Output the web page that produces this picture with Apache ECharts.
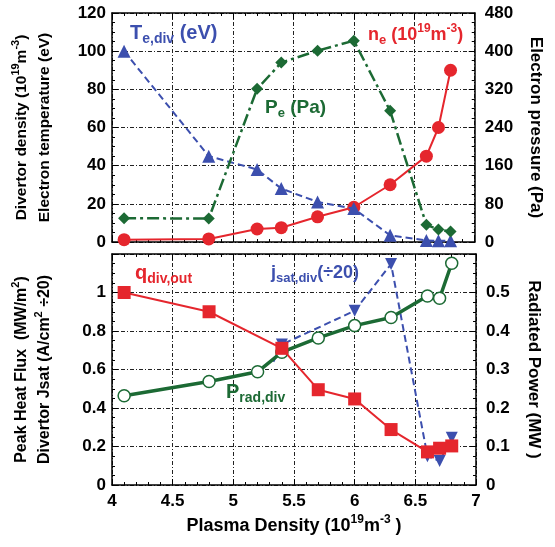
<!DOCTYPE html>
<html>
<head>
<meta charset="utf-8">
<script src="https://cdn.jsdelivr.net/npm/echarts@6/dist/echarts.min.js"></script>
<style>html,body{margin:0;padding:0;background:#fff;}#c{width:555px;height:547px;}</style>
</head>
<body>
<div id="c"></div>
<script>
// ---- data ----
const xVals   = [4.1, 4.8, 5.2, 5.4, 5.7, 6.0, 6.3, 6.6, 6.7, 6.8];
const neDiv   = [1.2, 1.6, 6.8, 7.5, 13.2, 18.2, 30, 45, 60, 90];          // 10^19 m^-3
const teDiv   = [100, 45, 38, 28, 21, 17.5, 3.5, 0.8, 0.6, 0.6];          // eV
const pePa    = [50, 49, 321, 376, 401, 422, 275, 36, 26, 22];            // Pa
const qX      = [4.1, 4.8, 5.4, 5.7, 6.0, 6.3, 6.6, 6.7, 6.8];
const qDiv    = [1.0, 0.90, 0.71, 0.495, 0.447, 0.288, 0.172, 0.191, 0.203]; // MW/m2
const pradX   = [4.1, 4.8, 5.2, 5.4, 5.7, 6.0, 6.3, 6.6, 6.7, 6.8];
const pradMW  = [0.232, 0.269, 0.294, 0.345, 0.382, 0.414, 0.435, 0.491, 0.485, 0.576];
const jsatX   = [5.33, 5.4, 6.0, 6.3, 6.6, 6.7, 6.8];
const jsatV   = [0.64, 0.73, 0.905, 1.148, 0.15, 0.125, 0.245];
const xTicks  = [4, 4.5, 5, 5.5, 6, 6.5, 7];

const RED = '#e5262d', BLUE = '#3c4fae', GREEN = '#1c6a34';
const FONT = "'Liberation Sans',Arial,sans-serif";
const zip = (a, b) => a.map((v, i) => [v, b[i]]);

const grid = { color: '#222', width: 1, type: [4, 2, 1, 2] };
const axLine = { onZero: false, lineStyle: { color: '#000', width: 1.5 } };
const tick = { inside: true, length: 6, lineStyle: { color: '#000', width: 1 } };
const minor = (n) => ({ show: true, splitNumber: n, length: 3, lineStyle: { color: '#000', width: 1 } });
const lab = { color: '#000', fontFamily: FONT, fontWeight: 'bold', fontSize: 17 };
function nStyle(fs, lh) {
  return {
    color: '#000', fontFamily: FONT, fontWeight: 'bold', fontSize: fs, lineHeight: lh,
    rich: {
      t: { color: '#000', fontFamily: FONT, fontWeight: 'bold', fontSize: fs, lineHeight: lh },
      sup: { color: '#000', fontFamily: FONT, fontWeight: 'bold', fontSize: Math.round(fs * 0.68), lineHeight: lh, verticalAlign: 'top' }
    }
  };
}

function xAx(gi, pos, labels) {
  return {
    type: 'value', gridIndex: gi, position: pos, min: 4, max: 7, interval: 0.5,
    axisLine: axLine, axisTick: tick, minorTick: minor(5),
    splitLine: { show: pos === 'bottom', lineStyle: grid },
    axisLabel: labels ? Object.assign({ margin: 8, formatter: v => String(v) }, lab) : { show: false }
  };
}

const chart = echarts.init(document.getElementById('c'), null, { renderer: 'canvas' });

function legendText(x, y, color, parts, size) {
  const rich = {
    m: { fill: color, fontFamily: FONT, fontWeight: 'bold', fontSize: size, lineHeight: size + 6 },
    s: { fill: color, fontFamily: FONT, fontWeight: 'bold', fontSize: Math.round(size * 0.7), lineHeight: size + 6, verticalAlign: 'bottom' },
    u: { fill: color, fontFamily: FONT, fontWeight: 'bold', fontSize: Math.round(size * 0.68), lineHeight: size + 6, verticalAlign: 'top' }
  };
  return { type: 'text', left: x, top: y, z: 100, style: { text: parts, rich: rich, fill: color } };
}

const option = {
  animation: false,
  backgroundColor: '#fff',
  grid: [
    { left: 112, right: 79, top: 13, height: 229 },
    { left: 112, right: 79, top: 254, height: 231 }
  ],
  xAxis: [
    xAx(0, 'bottom', false),
    xAx(0, 'top', false),
    Object.assign(xAx(1, 'bottom', true), {
      name: '{t|Plasma Density (10}{sup|19}{t|m}{sup|-3}{t| )}', nameLocation: 'middle', nameGap: 29,
      nameTextStyle: nStyle(18, 24)
    }),
    xAx(1, 'top', false)
  ],
  yAxis: [
    {
      type: 'value', gridIndex: 0, position: 'left', min: 0, max: 120, interval: 20,
      axisLine: axLine, axisTick: tick, minorTick: minor(4),
      splitLine: { show: true, lineStyle: grid },
      axisLabel: Object.assign({ margin: 6 }, lab),
      name: '{t|Divertor density (10}{sup|19}{t|m}{sup|-3}{t|)}\n{t|Electron temperature (eV)}',
      nameLocation: 'middle', nameRotate: 90, nameGap: 56, nameTextStyle: nStyle(15.5, 23)
    },
    {
      type: 'value', gridIndex: 0, position: 'right', min: 0, max: 480, interval: 80,
      axisLine: axLine, axisTick: tick, minorTick: minor(4),
      splitLine: { show: false },
      axisLabel: Object.assign({ margin: 10 }, lab),
      name: 'Electron pressure (Pa)', nameLocation: 'middle', nameRotate: -90, nameGap: 46,
      nameTextStyle: nStyle(17, 23)
    },
    {
      type: 'value', gridIndex: 1, position: 'left', min: 0, max: 1.2, interval: 0.2,
      axisLine: axLine, axisTick: tick, minorTick: minor(4),
      splitLine: { show: true, lineStyle: grid },
      axisLabel: Object.assign({ margin: 6, formatter: v => (v > 1.1 ? '' : String(+v.toFixed(1))) }, lab),
      name: '{t|Peak Heat Flux  (MW/m}{sup|2}{t|)}\n{t|Divertor Jsat (A/cm}{sup|2}{t| ÷20)}',
      nameLocation: 'middle', nameRotate: 90, nameGap: 56, nameTextStyle: nStyle(16, 23)
    },
    {
      type: 'value', gridIndex: 1, position: 'right', min: 0, max: 0.6, interval: 0.1,
      axisLine: axLine, axisTick: tick, minorTick: minor(4),
      splitLine: { show: false },
      axisLabel: Object.assign({ margin: 10, formatter: v => (v > 0.55 ? '' : String(+v.toFixed(1))) }, lab),
      name: 'Radiated Power (MW )', nameLocation: 'middle', nameRotate: -90, nameGap: 46,
      nameTextStyle: nStyle(17, 23)
    }
  ],
  series: [
    {
      name: 'ne', type: 'line', xAxisIndex: 0, yAxisIndex: 0, data: zip(xVals, neDiv),
      symbol: 'circle', symbolSize: 13, z: 3,
      lineStyle: { color: RED, width: 2 }, itemStyle: { color: RED }
    },
    {
      name: 'Te', type: 'line', xAxisIndex: 0, yAxisIndex: 0, data: zip(xVals, teDiv),
      symbol: 'triangle', symbolSize: 13, z: 4,
      lineStyle: { color: BLUE, width: 2, type: [7, 4] }, itemStyle: { color: BLUE }
    },
    {
      name: 'Pe', type: 'line', xAxisIndex: 0, yAxisIndex: 1, data: zip(xVals, pePa),
      symbol: 'diamond', symbolSize: 12, z: 5,
      lineStyle: { color: GREEN, width: 2.5, type: [12, 4, 3, 4] }, itemStyle: { color: GREEN }
    },
    {
      name: 'jsat', type: 'line', xAxisIndex: 2, yAxisIndex: 2,
      data: zip(jsatX, jsatV).map((p, i) => i === 0 ? { value: p, symbol: 'none' } : p),
      symbol: 'triangle', symbolRotate: 180, symbolSize: 12, z: 3,
      lineStyle: { color: BLUE, width: 2, type: [7, 4] }, itemStyle: { color: BLUE }
    },
    {
      name: 'prad', type: 'line', xAxisIndex: 2, yAxisIndex: 3, data: zip(pradX, pradMW),
      symbol: 'circle', symbolSize: 12, z: 4, showAllSymbol: true,
      lineStyle: { color: GREEN, width: 3.5 },
      itemStyle: { color: '#fff', borderColor: GREEN, borderWidth: 1.5 }
    },
    {
      name: 'q', type: 'line', xAxisIndex: 2, yAxisIndex: 2, data: zip(qX, qDiv),
      symbol: 'rect', symbolSize: 13, z: 5,
      lineStyle: { color: RED, width: 2 }, itemStyle: { color: RED }
    }
  ],
  graphic: [
    legendText(130, 23, BLUE, '{m|T}{s|e,div}{m| (eV)}', 20),
    legendText(368, 23, RED, '{m|n}{s|e}{m| (10}{u|19}{m|m}{u|-3}{m|)}', 18),
    legendText(265, 98, GREEN, '{m|P}{s|e}{m| (Pa)}', 19),
    legendText(135, 263, RED, '{m|q}{s|div,out}', 20),
    legendText(271, 264, BLUE, '{m|j}{s|sat,div}{m|(÷20)}', 18),
    legendText(226, 382, GREEN, '{m|P}{s|rad,div}', 20)
  ]
};
chart.setOption(option);
</script>
</body>
</html>
